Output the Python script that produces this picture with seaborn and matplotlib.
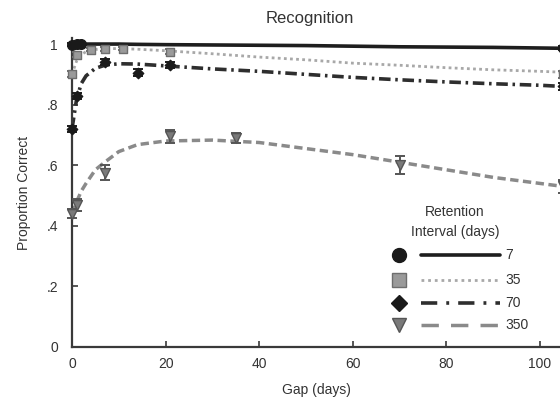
import numpy as np
import pandas as pd
import matplotlib
matplotlib.use("Agg")
import matplotlib.pyplot as plt
import seaborn as sns
from matplotlib.lines import Line2D

# ---------------- data ----------------
retention = ["7", "35", "70", "350"]

# observed points (gap in days, proportion correct, error)
gap_7 = [0, 1, 2, 105]
obs_7 = [0.998, 1.0, 1.0, 0.986]
err_7 = [0.005, 0.005, 0.005, 0.006]

gap_35 = [0, 1, 4, 7, 11, 21, 105]
obs_35 = [0.90, 0.965, 0.982, 0.983, 0.985, 0.975, 0.90]
err_35 = [0.01, 0.008, 0.006, 0.006, 0.006, 0.008, 0.012]

gap_70 = [0, 1, 7, 14, 21, 105]
obs_70 = [0.72, 0.83, 0.94, 0.905, 0.93, 0.86]
err_70 = [0.01, 0.01, 0.01, 0.012, 0.01, 0.012]

gap_350 = [0, 1, 7, 21, 35, 70, 105]
obs_350 = [0.44, 0.47, 0.575, 0.695, 0.69, 0.60, 0.53]
err_350 = [0.015, 0.02, 0.025, 0.02, 0.015, 0.03, 0.02]

# fitted curves
curve_gap = [0, 1, 2, 3, 5, 7, 10, 14, 20, 30, 40, 50, 60, 70, 80, 90, 100, 105]
fit_7 = [0.997, 1.0, 1.0, 1.0, 1.0, 1.0, 1.0, 0.999, 0.998, 0.997, 0.996, 0.995,
         0.993, 0.991, 0.99, 0.989, 0.987, 0.986]
fit_35 = [0.90, 0.945, 0.965, 0.975, 0.982, 0.985, 0.985, 0.983, 0.978, 0.968,
          0.957, 0.948, 0.937, 0.930, 0.922, 0.915, 0.910, 0.907]
fit_70 = [0.72, 0.82, 0.87, 0.895, 0.92, 0.93, 0.935, 0.934, 0.928, 0.918,
          0.910, 0.900, 0.890, 0.882, 0.875, 0.869, 0.864, 0.860]
fit_350 = [0.44, 0.48, 0.515, 0.54, 0.585, 0.61, 0.645, 0.668, 0.68, 0.683,
           0.675, 0.655, 0.635, 0.61, 0.585, 0.56, 0.54, 0.53]

x_ticks = [0, 20, 40, 60, 80, 100]
y_ticks = [0, 0.2, 0.4, 0.6, 0.8, 1.0]
y_tick_labels = ["0", ".2", ".4", ".6", ".8", "1"]

# ---------------- styling ----------------
sns.set_theme(style="white")
plt.rcParams["font.family"] = ["Liberation Sans", "DejaVu Sans"]
text_color = "#333333"
fs = 10

line_color = {"7": "#1e1e1e", "35": "#a8a8a8", "70": "#2e2e2e", "350": "#8a8a8a"}
marker_face = {"7": "#1a1a1a", "35": "#9a9a9a", "70": "#1a1a1a", "350": "#7a7a7a"}
marker_edge = {"7": "#1a1a1a", "35": "#6e6e6e", "70": "#1a1a1a", "350": "#555555"}
marker_sym = {"7": "o", "35": "s", "70": "D", "350": "v"}
marker_size = {"7": 48, "35": 40, "70": 28, "350": 50}
legend_msize = {"7": 10, "35": 9.5, "70": 8, "350": 10.5}
line_width = {"7": 2.6, "35": 2.0, "70": 2.6, "350": 2.5}
dash_style = {"7": "", "35": (1, 1.2), "70": (3.2, 1.3, 0.7, 1.3), "350": (2.4, 1.3)}

fig = plt.figure(figsize=(5.6, 4.08), dpi=100)
ax = fig.add_axes([72 / 560, 61 / 408, 488 / 560, 309 / 408])

curves = pd.DataFrame({
    "gap": curve_gap * 4,
    "value": fit_7 + fit_35 + fit_70 + fit_350,
    "ri": [r for r in retention for _ in curve_gap],
})

sns.lineplot(data=curves, x="gap", y="value", hue="ri", style="ri",
             hue_order=retention, style_order=retention,
             palette=line_color, dashes=dash_style, legend=False, ax=ax,
             linewidth=2.4, zorder=2)
for ln, r in zip(ax.get_lines(), retention):
    ln.set_linewidth(line_width[r])
    ln.set_clip_on(False)

obs = {
    "7": (gap_7, obs_7, err_7),
    "35": (gap_35, obs_35, err_35),
    "70": (gap_70, obs_70, err_70),
    "350": (gap_350, obs_350, err_350),
}
for r in retention:
    g, v, e = obs[r]
    ax.errorbar(g, v, yerr=e, fmt="none", ecolor=marker_edge[r], elinewidth=1.4,
                capsize=3.5, capthick=1.4, zorder=3, clip_on=False)
    df = pd.DataFrame({"gap": g, "value": v})
    sns.scatterplot(data=df, x="gap", y="value", marker=marker_sym[r],
                    s=marker_size[r], color=marker_face[r],
                    edgecolor=marker_edge[r], linewidth=1.0, ax=ax,
                    zorder=4, clip_on=False, legend=False)

# ---------------- axes ----------------
ax.set_xlim(0, 104.3)
ax.set_ylim(0, 1.02)
ax.set_xticks(x_ticks)
ax.set_xticklabels([str(t) for t in x_ticks])
ax.set_yticks(y_ticks)
ax.set_yticklabels(y_tick_labels)
for s in ["top", "right"]:
    ax.spines[s].set_visible(False)
for s in ["left", "bottom"]:
    ax.spines[s].set_color("#3a3a3a")
    ax.spines[s].set_linewidth(1.6)
ax.tick_params(axis="both", direction="in", length=4, width=1.2,
               color="#3a3a3a", labelsize=fs, labelcolor=text_color)
ax.tick_params(axis="x", pad=7, bottom=True)
ax.tick_params(axis="y", pad=10, left=True)

ax.set_xlabel("Gap (days)", fontsize=fs, color=text_color, labelpad=9)
ax.set_ylabel("Proportion Correct", fontsize=fs, color=text_color, labelpad=11)
fig.text(310 / 560, 1 - 18 / 408, "Recognition", ha="center", va="center",
         fontsize=12, color=text_color)

# ---------------- legend (drawn in axes coordinates) ----------------
lx_marker = (399 - 72) / 488
lx0, lx1 = (421 - 72) / 488, (500 - 72) / 488
lx_text = (505 - 72) / 488
rows_y = [(347 - py) / 309 for py in (255, 280, 303, 325)]
leg_dash = {"7": "", "35": (1, 1.4), "70": (4.5, 2.5, 0.8, 2.5), "350": (5, 3.5)}
ax.text((455 - 72) / 488, (347 - 212) / 309, "Retention", transform=ax.transAxes,
        ha="center", va="center", fontsize=fs, color=text_color)
ax.text((455 - 72) / 488, (347 - 232) / 309, "Interval (days)", transform=ax.transAxes,
        ha="center", va="center", fontsize=fs, color=text_color)
for r, yy in zip(retention, rows_y):
    ax.add_line(Line2D([lx_marker], [yy], transform=ax.transAxes,
                       marker=marker_sym[r], markersize=legend_msize[r],
                       markerfacecolor=marker_face[r], markeredgecolor=marker_edge[r],
                       linestyle="none", clip_on=False))
    ln = Line2D([lx0, lx1], [yy, yy], transform=ax.transAxes,
                color=line_color[r], linewidth=line_width[r], clip_on=False)
    if leg_dash[r]:
        ln.set_dashes(leg_dash[r])
    ax.add_line(ln)
    ax.text(lx_text, yy, r, transform=ax.transAxes, ha="left", va="center",
            fontsize=fs, color=text_color)

fig.savefig("out.png", dpi=100)
